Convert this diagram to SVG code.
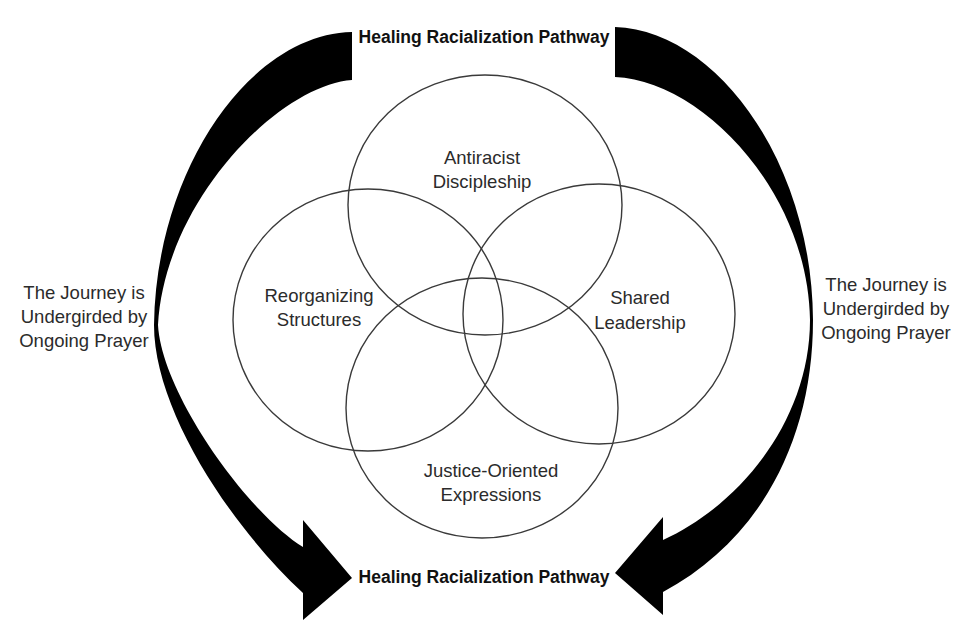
<svg xmlns="http://www.w3.org/2000/svg" width="960" height="640" viewBox="0 0 960 640">
<style>
  .ring { fill: none; stroke: #3a3a3a; stroke-width: 1.4; }
  .lbl { font-family: "Liberation Sans", Arial, sans-serif; font-size: 18.5px; fill: #2b2b2b; text-anchor: middle; }
  .title { font-family: "Liberation Sans", Arial, sans-serif; font-size: 17.5px; font-weight: bold; fill: #111; text-anchor: middle; }
  .arrow { fill: #000; stroke: none; }
</style>
<rect width="960" height="640" fill="#fff"/>

<g id="connectors">
  <path class="arrow" d="M352,32 C250,34 156,170 154,325 C154,410 230,525 303,593 L303,620 L352,578 L303,520 L303,547 C250,515 162,395 158,325 C165,200 280,85 352,80 Z"/>
  <path class="arrow" d="M615,27 C715,30 812,160 813,320 C813,440 760,540 663,592 L663,615 L615,573 L663,517 L663,540 C740,505 810,420 810,320 C808,190 700,80 615,77 Z"/>
</g>

<g id="node-antiracist">
  <ellipse class="ring" cx="485" cy="205" rx="137" ry="130"/>
  <text class="lbl" x="482" y="164">Antiracist</text>
  <text class="lbl" x="482" y="188">Discipleship</text>
</g>
<g id="node-reorganizing">
  <ellipse class="ring" cx="368" cy="320" rx="135" ry="131"/>
  <text class="lbl" x="319" y="302">Reorganizing</text>
  <text class="lbl" x="319" y="326">Structures</text>
</g>
<g id="node-shared">
  <ellipse class="ring" cx="599" cy="314" rx="136" ry="130"/>
  <text class="lbl" x="640" y="304">Shared</text>
  <text class="lbl" x="640" y="329">Leadership</text>
</g>
<g id="node-justice">
  <ellipse class="ring" cx="482" cy="408" rx="136" ry="130"/>
  <text class="lbl" x="491" y="477">Justice-Oriented</text>
  <text class="lbl" x="491" y="501">Expressions</text>
</g>

<g id="title-top">
  <text class="title" x="484" y="43">Healing Racialization Pathway</text>
</g>
<g id="title-bottom">
  <text class="title" x="484" y="583">Healing Racialization Pathway</text>
</g>
<g id="side-left">
  <text class="lbl" x="84" y="299">The Journey is</text>
  <text class="lbl" x="84" y="323">Undergirded by</text>
  <text class="lbl" x="84" y="347">Ongoing Prayer</text>
</g>
<g id="side-right">
  <text class="lbl" x="886" y="291">The Journey is</text>
  <text class="lbl" x="886" y="315">Undergirded by</text>
  <text class="lbl" x="886" y="339">Ongoing Prayer</text>
</g>
</svg>
